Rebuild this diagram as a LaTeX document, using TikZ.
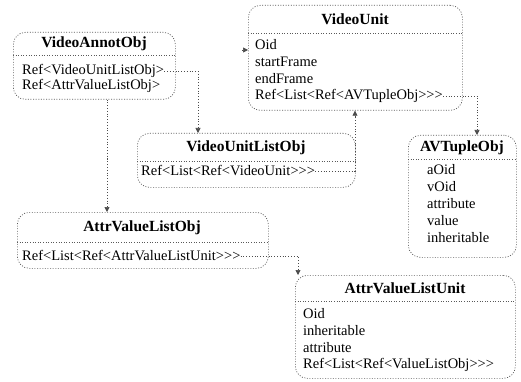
\documentclass[tikz,border=0pt]{standalone}
\usepackage{fontspec}
\setmainfont{Liberation Serif}[Ligatures=TeXOff]
\usetikzlibrary{arrows.meta}
\tikzset{
  box/.style={draw=black!65, line width=0.7pt, dash pattern=on 1pt off 1.6pt, rounded corners=12pt, inner sep=0pt},
  sep/.style={draw=black!65, line width=0.7pt, dash pattern=on 1pt off 1.6pt},
  ttl/.style={inner sep=0pt, font=\fontsize{15.5}{18}\selectfont\bfseries},
  attr/.style={inner sep=0pt, anchor=west, font=\fontsize{14.5}{17}\selectfont},
  conn/.style={draw=black!70, line width=0.7pt, dash pattern=on 1pt off 1.8pt, -{Triangle[width=5pt,length=5pt]}}
}
\begin{document}
\begin{tikzpicture}[x=1pt,y=-1pt]
\useasboundingbox (0,0) rectangle (521,382);
% helper x positions
\coordinate (c107) at (107,0);
\coordinate (c198) at (198,0);
\coordinate (c355) at (355,0);
\coordinate (c477) at (477,0);
\coordinate (c298) at (298,0);

% VideoAnnotObj
\node[box, anchor=north west, minimum width=162pt, minimum height=67pt] (va) at (13,32) {};
\node[ttl] (vat) at (94,44) {VideoAnnotObj};
\draw[sep] (va.west |- 0,55) -- (va.east |- 0,55);
\node[attr] (va1) at (22,71) {Ref<VideoUnitListObj>};
\node[attr] (va2) at (22,86) {Ref<AttrValueListObj>};

% VideoUnit
\node[box, anchor=north west, minimum width=214pt, minimum height=105pt] (vu) at (248,5) {};
\node[ttl] (vut) at (355,19) {VideoUnit};
\draw[sep] (vu.west |- 0,33) -- (vu.east |- 0,33);
\node[attr] (vu1) at (255,45) {Oid};
\node[attr] (vu2) at (255,62) {startFrame};
\node[attr] (vu3) at (255,79) {endFrame};
\node[attr] (vu4) at (255,96) {Ref<List<Ref<AVTupleObj>>>};

% VideoUnitListObj
\node[box, anchor=north west, minimum width=218pt, minimum height=54pt] (vl) at (137,133) {};
\node[ttl] (vlt) at (246,148) {VideoUnitListObj};
\draw[sep] (vl.west |- 0,161) -- (vl.east |- 0,161);
\node[attr] (vl1) at (141,171) {Ref<List<Ref<VideoUnit>>>};

% AVTupleObj
\node[box, anchor=north west, minimum width=108pt, minimum height=122pt] (av) at (408,135) {};
\node[ttl] (avt) at (462,148) {AVTupleObj};
\draw[sep] (av.west |- 0,159) -- (av.east |- 0,159);
\node[attr] (av1) at (427,170) {aOid};
\node[attr] (av2) at (427,187) {vOid};
\node[attr] (av3) at (427,204) {attribute};
\node[attr] (av4) at (427,221) {value};
\node[attr] (av5) at (427,238) {inheritable};

% AttrValueListObj
\node[box, anchor=north west, minimum width=251pt, minimum height=56pt] (al) at (17,212) {};
\node[ttl] (alt) at (142,228) {AttrValueListObj};
\draw[sep] (al.west |- 0,242) -- (al.east |- 0,242);
\node[attr] (al1) at (22,256) {Ref<List<Ref<AttrValueListUnit>>>};

% AttrValueListUnit
\node[box, anchor=north west, minimum width=220pt, minimum height=103pt] (au) at (295,275) {};
\node[ttl] (aut) at (405,288) {AttrValueListUnit};
\draw[sep] (au.west |- 0,301) -- (au.east |- 0,301);
\node[attr] (au1) at (303,314) {Oid};
\node[attr] (au2) at (303,331) {inheritable};
\node[attr] (au3) at (303,348) {attribute};
\node[attr] (au4) at (303,365) {Ref<List<Ref<ValueListObj>>>};

% connectors
\draw[conn] (va1.east) -| (vl.north -| c198);
\draw[conn] (va.south -| c107) -- (al.north -| c107);
\draw[conn] (vl1.east) -| (vu.south -| c355);
\draw[conn] (vu4.east) -| (av.north -| c477);
\draw[conn] (al1.east) -| (au.north -| c298);
\coordinate (vuin) at (242,50);
\draw[conn] (vuin) -- (vu.west |- vuin);
\end{tikzpicture}
\end{document}
